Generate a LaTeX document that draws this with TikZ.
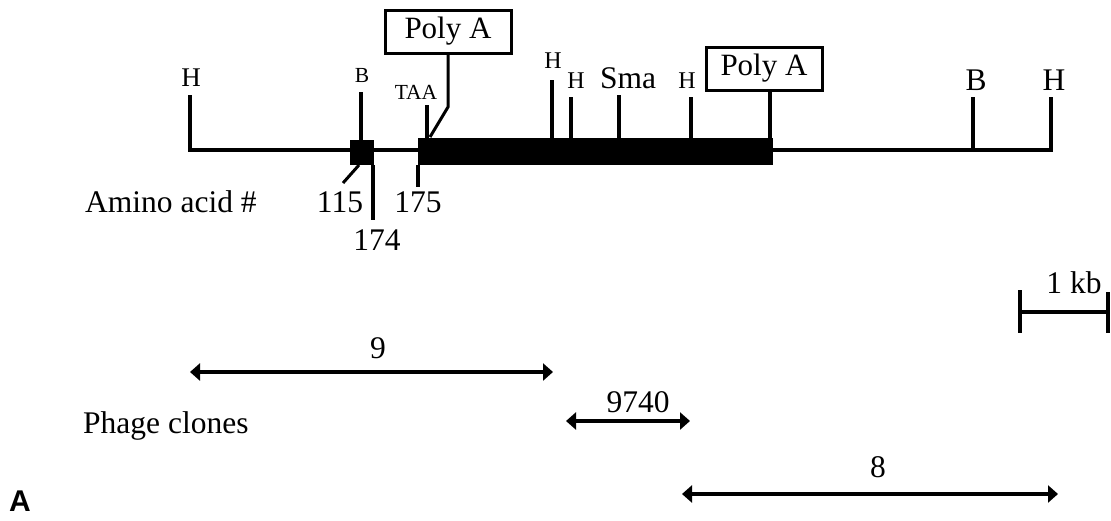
\documentclass[tikz,border=0pt]{standalone}
\usepackage{fontspec}
\setmainfont{Liberation Serif}
\newfontfamily\panelfont{Liberation Sans}
\usetikzlibrary{arrows.meta, positioning}

\begin{document}
\begin{tikzpicture}[x=1pt, y=-1pt,
    lab/.style={font=\fontsize{31.5}{36}\selectfont, inner sep=0pt, anchor=base},
    midlab/.style={font=\fontsize{24}{28}\selectfont, inner sep=0pt, anchor=base},
    smlab/.style={font=\fontsize{21.5}{24}\selectfont, inner sep=0pt, anchor=base},
    site/.style={line width=3.5pt},
    exon/.style={fill=black, inner sep=0pt, outer sep=0pt},
    polya/.style={draw, line width=3pt, inner sep=0pt, minimum height=43pt, font=\fontsize{31}{36}\selectfont},
    clone/.style={line width=4pt, {Triangle[length=10pt,width=17pt]}-{Triangle[length=10pt,width=17pt]}},
]
\useasboundingbox (0,0) rectangle (1111,520);

% Map line
\coordinate (hL) at (190,150);
\coordinate (hR) at (1051,150);
\coordinate (hLtop) at (190,95);
\coordinate (hRtop) at (1051,97);
\draw[site, line join=miter] (hLtop) -- (hL) -- (hR) -- (hRtop);

% Exons
\node[exon, minimum width=24pt, minimum height=25pt] (ex1) at (362,152.5) {};
\node[exon, minimum width=355pt, minimum height=27pt] (ex2) at (595.5,151.5) {};

% Restriction sites
\node[midlab, font=\fontsize{27}{32}\selectfont] (hLlab) at (191,86) {H};
\coordinate (bLtop) at (361,92);
\draw[site] (bLtop) -- (bLtop |- ex1.north);
\node[smlab] (bLlab) at (362,82) {B};
\coordinate (h1top) at (552,80);
\draw[site] (h1top) -- (h1top |- ex2.north);
\node[midlab] (h1lab) at (553,68) {H};
\coordinate (h2top) at (571,97);
\draw[site] (h2top) -- (h2top |- ex2.north);
\node[midlab] (h2lab) at (576,88) {H};
\coordinate (smatop) at (619,95);
\draw[site] (smatop) -- (smatop |- ex2.north);
\node[lab] (smalab) at (628,88) {Sma};
\coordinate (h3top) at (691,97);
\draw[site] (h3top) -- (h3top |- ex2.north);
\node[midlab] (h3lab) at (687,88) {H};
\coordinate (bRtop) at (973,97);
\draw[site] (bRtop) -- (bRtop |- hR);
\node[lab] (bRlab) at (976,90) {B};
\node[lab] (hRlab) at (1054,90) {H};

% Stop codon and poly A
\coordinate (taatop) at (427,105);
\draw[site] (taatop) -- (taatop |- ex2.north);
\node[smlab] (taalab) at (416,99) {TAA};
\node[polya, minimum width=126pt] (pa1) at (448,31.5) {Poly A};
\coordinate (pa1bend) at (448,107);
\coordinate (pa1foot) at (430,137);
\draw[line width=3pt] (pa1foot) -- (pa1bend) -- (pa1.south);
\node[polya, minimum width=116pt] (pa2) at (764,68.5) {Poly A};
\coordinate (pa2foot) at (770,138);
\draw[site] (pa2foot) -- (pa2foot |- pa2.south);

% Amino acid numbers
\node[lab, anchor=base west] (aalab) at (85,212) {Amino acid \#};
\coordinate (n115a) at (359,165);
\coordinate (n115b) at (343,183);
\draw[line width=3pt] (n115a) -- (n115b);
\node[lab] (n115) at (340,212) {115};
\coordinate (n174a) at (373,165);
\draw[site] (n174a) -- ++(0,55) coordinate (n174b);
\node[lab] (n174) at (377,250) {174};
\coordinate (n175a) at (418,165);
\draw[site] (n175a) -- ++(0,22) coordinate (n175b);
\node[lab] (n175) at (418,212) {175};

% Scale bar
\coordinate (kbL) at (1020,312);
\coordinate (kbR) at (1108,312);
\draw[line width=4pt] (kbL) -- (kbR);
\draw[line width=4.5pt] (1020,290) coordinate (kbLtop) -- (1020,333) coordinate (kbLbot);
\draw[line width=4.5pt] (1108,292) coordinate (kbRtop) -- (1108,333) coordinate (kbRbot);
\node[lab] (kblab) at (1074,293) {1 kb};

% Phage clones
\node[lab, anchor=base west] (phage) at (83,433) {Phage clones};
\coordinate (c9a) at (190,372);
\coordinate (c9b) at (553,372);
\draw[clone] (c9a) -- (c9b);
\node[lab] (c9lab) at (378,358) {9};
\coordinate (c9740a) at (566,421);
\coordinate (c9740b) at (690,421);
\draw[clone] (c9740a) -- (c9740b);
\node[lab] (c9740lab) at (638,412) {9740};
\coordinate (c8a) at (682,494);
\coordinate (c8b) at (1058,494);
\draw[clone] (c8a) -- (c8b);
\node[lab] (c8lab) at (878,477) {8};

% Panel letter
\node[lab, font=\panelfont\bfseries\fontsize{30}{36}\selectfont] (panel) at (20,511) {A};
\end{tikzpicture}
\end{document}
